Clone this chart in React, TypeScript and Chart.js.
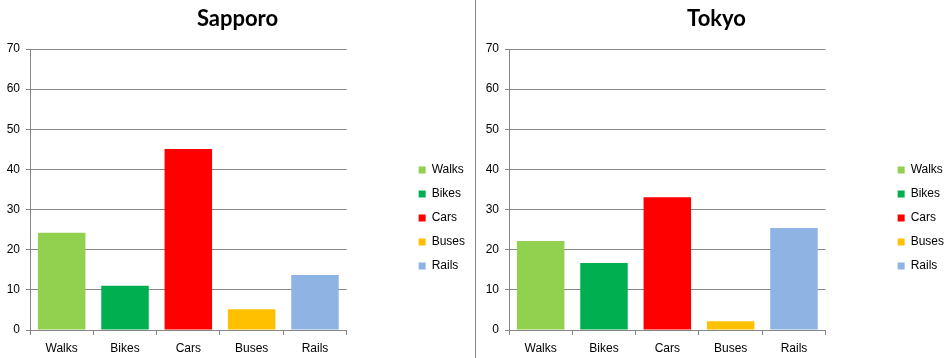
import React, { useEffect, useRef } from "react";
import { Chart, registerables } from "chart.js";

Chart.register(...registerables);

const categories = ["Walks", "Bikes", "Cars", "Buses", "Rails"];
const sapporoValues = [24.2, 11.0, 45.1, 5.2, 13.7];
const tokyoValues = [22.2, 16.7, 33.1, 2.2, 25.4];
const barColors = ["#92D050", "#00B050", "#FF0000", "#FFC000", "#8EB4E3"];
const yMin = 0;
const yMax = 70;
const yStep = 10;

const GRID = "#868686";
const PANEL_W = 475;
const PANEL_H = 358;

function Panel({ title, values }: { title: string; values: number[] }) {
  const ref = useRef<HTMLCanvasElement | null>(null);
  useEffect(() => {
    if (!ref.current) return;
    const chart = new Chart(ref.current, {
      type: "bar",
      data: {
        labels: categories,
        datasets: [
          {
            label: title,
            data: values,
            backgroundColor: barColors,
            borderWidth: 0,
            barPercentage: 0.75,
            categoryPercentage: 1,
            yAxisID: "y",
          },
        ],
      },
      options: {
        animation: false,
        responsive: false,
        devicePixelRatio: 1,
        layout: { padding: { left: 0, right: 0, top: 0, bottom: 0 } },
        font: { family: "'Liberation Sans', Arial, sans-serif", size: 12 },
        plugins: {
          title: {
            display: true,
            text: title,
            color: "#000",
            font: { family: "Lato, 'Liberation Sans', sans-serif", size: 22, weight: "bold" },
            padding: { top: 6, bottom: 16.6 },
          },
          legend: {
            display: true,
            position: "right",
            fullSize: false,
            title: { display: true, text: "", padding: { top: 42.6, bottom: 0 }, font: { size: 12 } },
            labels: {
              boxWidth: 7,
              boxHeight: 7,
              padding: 12,
              color: "#000",
              font: { family: "'Liberation Sans', Arial, sans-serif", size: 12 },
              generateLabels: () =>
                categories.map((c, i) => ({
                  text: c,
                  fillStyle: barColors[i],
                  strokeStyle: barColors[i],
                  lineWidth: 0,
                  hidden: false,
                  index: i,
                  datasetIndex: 0,
                  fontColor: "#000",
                })),
            },
          },
          tooltip: { enabled: false },
        },
        scales: {
          x: {
            type: "category",
            offset: true,
            grid: {
              display: true,
              offset: true,
              drawOnChartArea: false,
              drawTicks: true,
              tickLength: 5,
              color: GRID,
            },
            border: { display: true, color: GRID },
            ticks: {
              color: "#000",
              padding: 6,
              font: { family: "'Liberation Sans', Arial, sans-serif", size: 12 },
            },
            afterFit: (s: any) => {
              s.height = 28;
            },
          },
          y: {
            type: "linear",
            position: "left",
            min: yMin,
            max: yMax,
            grid: { color: GRID, tickLength: 4, drawTicks: true },
            border: { display: true, color: GRID },
            ticks: {
              stepSize: yStep,
              color: "#000",
              padding: 6,
              font: { family: "'Liberation Sans', Arial, sans-serif", size: 12 },
            },
            afterFit: (s: any) => {
              s.width = 30;
            },
          },
          pad: {
            type: "linear",
            axis: "y",
            position: "right",
            display: true,
            grid: { display: false, drawTicks: false },
            border: { display: false },
            ticks: { display: false },
            afterFit: (s: any) => {
              s.width = 60;
            },
          },
        },
      } as any,
    });
    return () => chart.destroy();
  }, [title, values]);
  return <canvas ref={ref} width={PANEL_W} height={PANEL_H} style={{ display: "block" }} />;
}

export default function App() {
  return (
    <div
      style={{
        position: "fixed",
        left: 0,
        top: 0,
        width: 946,
        height: 358,
        overflow: "hidden",
        background: "#fff",
      }}
    >
      <div style={{ position: "absolute", left: 0, top: 0, width: PANEL_W, height: PANEL_H }}>
        <Panel title="Sapporo" values={sapporoValues} />
      </div>
      <div style={{ position: "absolute", left: 475, top: 0, width: 1, height: 358, background: GRID }} />
      <div style={{ position: "absolute", left: 479, top: 0, width: PANEL_W, height: PANEL_H }}>
        <Panel title="Tokyo" values={tokyoValues} />
      </div>
    </div>
  );
}
